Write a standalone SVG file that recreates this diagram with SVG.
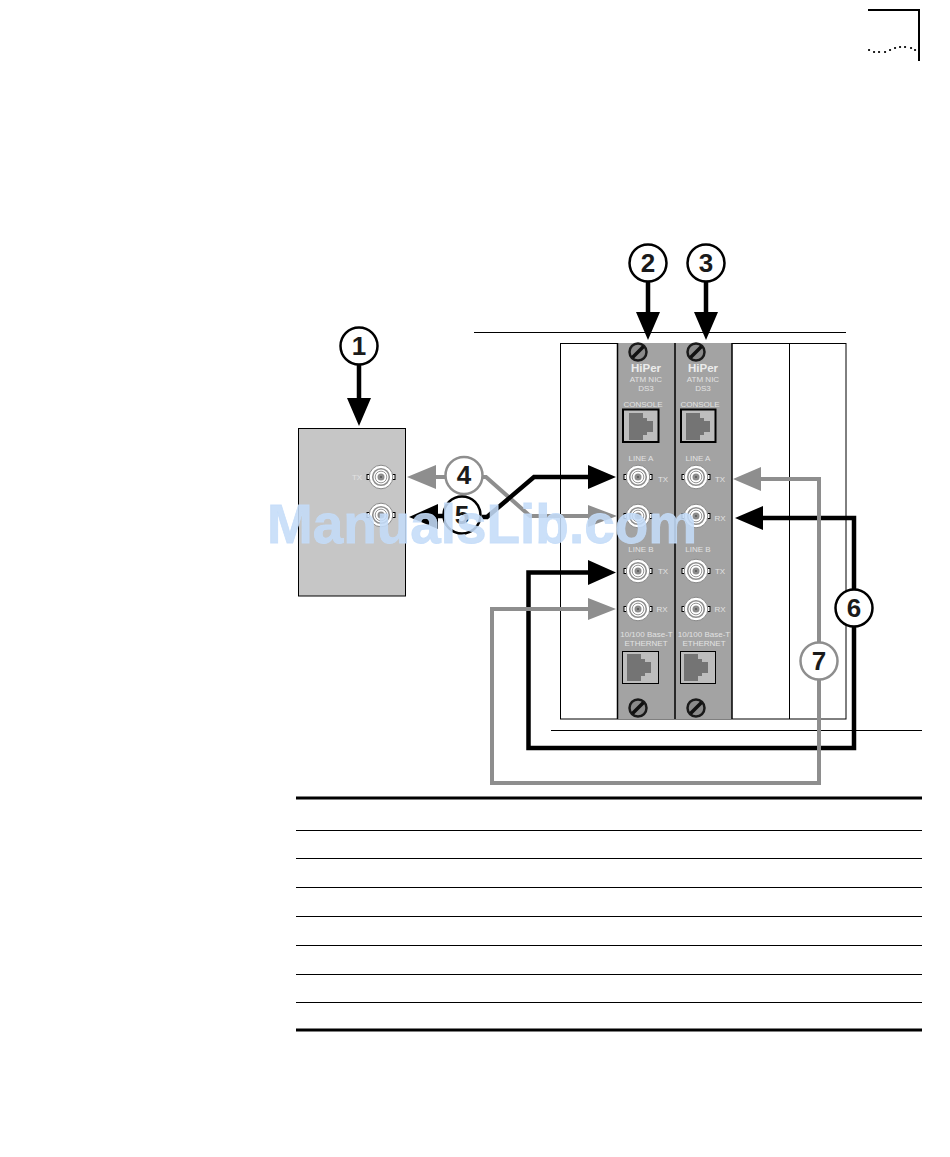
<svg xmlns="http://www.w3.org/2000/svg" width="950" height="1157" viewBox="0 0 950 1157">
<style>
text{font-family:"Liberation Sans",Arial,sans-serif}
.lbl{fill:#e2e2e2;font-size:8px;text-anchor:middle}
.hip{fill:#ececec;font-size:11.5px;font-weight:bold;text-anchor:middle}
.num{fill:#1a1a1a;font-size:26px;font-weight:bold;text-anchor:middle;stroke:none}
.cir{fill:#fff;stroke-width:2.500}
.k{stroke:#000;fill:none;stroke-width:4.500}
.g{stroke:#8e8e8e;fill:none;stroke-width:4}
.rule{stroke:#000;stroke-width:1;fill:none}
.thick{stroke:#000;stroke-width:3;fill:none}
.panel{fill:#a3a3a3;stroke:none}
.frame{fill:#bdbdbd;stroke:#000}
</style>
<defs>
<g id="bnc">
<rect x="-14" y="-2.500" width="3" height="5" fill="#fff" stroke="#000"/>
<rect x="11" y="-2.500" width="3" height="5" fill="#fff" stroke="#000"/>
<circle r="11.800" fill="#fff" stroke="#8a8a8a" stroke-width="1"/>
<circle r="8.300" fill="#fff" stroke="#909090" stroke-width="1.600"/>
<circle r="5.800" fill="#fff" stroke="#999" stroke-width="1"/>
<circle r="3.500" fill="#8c8c8c"/>
<circle r="1" fill="#555"/>
</g>
<g id="screw">
<circle r="8.500" fill="#8a8a8a" stroke="#1a1a1a" stroke-width="2.500"/>
<path d="M-5.500 5.500L5.500-5.500" stroke="#111" stroke-width="3.500"/>
</g>
<path id="jack" d="M-10-12H4v5h4v3h6v11h-6v3h-4v5H-10z" fill="#747474"/>
</defs>
<g id="page-mark" fill="none" stroke="#000">
<path d="M868 10H919V61" stroke-width="2"/>
<path d="M869 50h.1M874 52h.1M879 52h.1M885 52h.1M890 50h.1M895 48h.1M900 47h.1M905 47h.1M911 48h.1M915 50h.1" stroke-width="2.200" stroke-linecap="round"/>
</g>
<g id="chassis">
<path class="rule" d="M474 332.500H846"/>
<rect x="560.500" y="343.500" width="285.500" height="375.500" fill="#fff" stroke="#000"/>
<path class="rule" d="M789.500 343V719"/>
</g>
<path id="chassis-base" class="rule" d="M551 730.500H922"/>
<g id="device">
<rect x="298.500" y="428.500" width="107" height="167.500" fill="#c6c6c6" stroke="#000"/>
<use href="#bnc" x="381" y="477"/>
<use href="#bnc" x="381" y="515"/>
<text class="lbl" x="357" y="480">TX</text>
</g>
<g id="card-a">
<rect class="panel" x="618" y="343" width="57" height="376"/>
<use href="#screw" x="638" y="352"/>
<text class="hip" x="646" y="372">HiPer</text>
<text class="lbl" x="646" y="382">ATM NIC</text><text class="lbl" x="646" y="391">DS3</text>
<text class="lbl" x="643" y="407">CONSOLE</text>
<rect class="frame" x="623" y="409.500" width="35.500" height="32.500" stroke-width="2"/>
<use href="#jack" x="639" y="425"/>
<text class="lbl" x="641" y="461">LINE A</text>
<use href="#bnc" x="638" y="477"/><use href="#bnc" x="638" y="516"/>
<text class="lbl" x="663" y="482">TX</text>
<text class="lbl" x="641" y="552">LINE B</text>
<use href="#bnc" x="638" y="571"/><use href="#bnc" x="638" y="609"/>
<text class="lbl" x="663" y="574">TX</text><text class="lbl" x="662" y="612">RX</text>
<text class="lbl" x="646.500" y="637">10/100 Base-T</text><text class="lbl" x="646" y="646">ETHERNET</text>
<rect class="frame" x="622.500" y="651.500" width="36" height="32"/>
<use href="#jack" x="637" y="666"/>
<use href="#screw" x="638" y="708"/>
</g>
<g id="card-b">
<rect class="panel" x="675" y="343" width="57" height="376"/>
<use href="#screw" x="696" y="352"/>
<text class="hip" x="703" y="372">HiPer</text>
<text class="lbl" x="703" y="382">ATM NIC</text><text class="lbl" x="703" y="391">DS3</text>
<text class="lbl" x="700" y="407">CONSOLE</text>
<rect class="frame" x="681" y="409.500" width="34.500" height="32.500" stroke-width="2"/>
<use href="#jack" x="696" y="425"/>
<text class="lbl" x="698" y="461">LINE A</text>
<use href="#bnc" x="696" y="477"/><use href="#bnc" x="696" y="516"/>
<text class="lbl" x="720" y="482">TX</text><text class="lbl" x="720" y="521">RX</text>
<text class="lbl" x="698" y="552">LINE B</text>
<use href="#bnc" x="696" y="571"/><use href="#bnc" x="696" y="609"/>
<text class="lbl" x="720" y="574">TX</text><text class="lbl" x="720" y="612">RX</text>
<text class="lbl" x="704" y="637">10/100 Base-T</text><text class="lbl" x="704" y="646">ETHERNET</text>
<rect class="frame" x="680.500" y="651.500" width="35" height="32"/>
<use href="#jack" x="694" y="666"/>
<use href="#screw" x="696" y="708"/>
</g>
<path id="card-edges" d="M617.500 343V719M675 343V719M732 343V719" fill="none" stroke="#000" stroke-width="1.500"/>
<g id="connectors">
<path class="k" d="M359 365V402M648 282V316M706 282V316"/>
<path d="M347 398H371L359 426ZM636 312H660L648 340ZM694 312H718L706 340Z" fill="#000"/>
<path class="g" d="M480 477H486L530 516H592"/>
<path class="g" d="M445 477H432"/>
<path d="M407 477L436 465V489ZM617 516L588 505V527Z" fill="#8e8e8e"/>
<path class="k" d="M482 517H487L534 477H592"/>
<path class="k" d="M443 516H432"/>
<path d="M409 517L438 504V529ZM616 477L588 465V489Z" fill="#000"/>
<path class="k" d="M854 589V518H760M854 627V748H528.500V572.500H592"/>
<path d="M735 518L763 506V530ZM616 572.500L588 560V585Z" fill="#000"/>
<path class="g" d="M819 642V479H760M819 680V783H492V609H592"/>
<path d="M733 479L761 467V491ZM616 609L588 598V620Z" fill="#8e8e8e"/>
</g>
<g id="callout-1"><circle class="cir" cx="359" cy="346" r="18.500" stroke="#000"/><text class="num" x="359" y="355">1</text></g>
<g id="callout-2"><circle class="cir" cx="648" cy="263" r="18.500" stroke="#000"/><text class="num" x="648" y="272">2</text></g>
<g id="callout-3"><circle class="cir" cx="706" cy="263" r="18.500" stroke="#000"/><text class="num" x="706" y="272">3</text></g>
<g id="callout-4"><circle class="cir" cx="464" cy="475.500" r="18.500" stroke="#8e8e8e"/><text class="num" x="464" y="484">4</text></g>
<g id="callout-5"><circle class="cir" cx="462" cy="515" r="18.500" stroke="#000"/><text class="num" x="462" y="524">5</text></g>
<g id="callout-6"><circle class="cir" cx="854" cy="608" r="18.500" stroke="#000"/><text class="num" x="854" y="617">6</text></g>
<g id="callout-7"><circle class="cir" cx="819" cy="661" r="18.500" stroke="#8e8e8e"/><text class="num" x="819" y="670">7</text></g>
<g id="table-rules">
<path class="thick" d="M296 798H922M296 1030H922"/>
<path class="rule" d="M296 830.500H922M296 858.500H922M296 887.500H922M296 916.500H922M296 945.500H922M296 974.500H922M296 1002.500H922"/>
</g>
<text id="watermark" x="267" y="543" font-size="56" font-weight="bold" fill="#c4dcf8" fill-opacity=".88" stroke="#c4dcf8" stroke-opacity=".88" stroke-width=".8" textLength="430" lengthAdjust="spacingAndGlyphs">ManualsLib.com</text>
</svg>
